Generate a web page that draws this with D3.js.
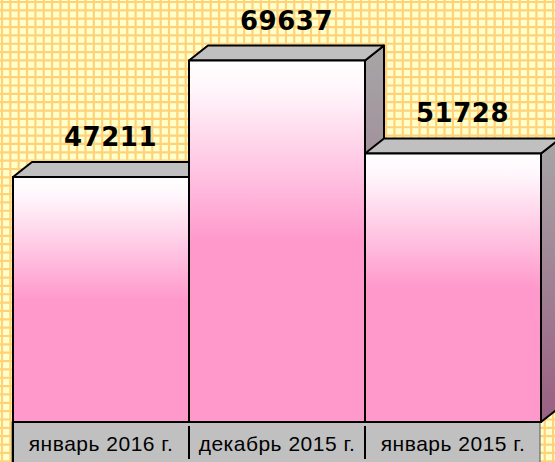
<!DOCTYPE html>
<html>
<head>
<meta charset="utf-8">
<script src="https://cdn.jsdelivr.net/npm/d3@7"></script>
<style>
  body { margin: 0; background: #fff; }
  svg { display: block; }
</style>
</head>
<body>
<div id="chart"></div>
<script>
const categories = ["январь 2016 г.", "декабрь 2015 г.", "январь 2015 г."];
const values = [47211, 69637, 51728];

const w = 555;
const h = 462;
const base = 422;      // bottom of the bars
const depth = {dx: 19, dy: -15};

const svg = d3.select("#chart").append("svg")
    .attr("width", w)
    .attr("height", h);

const defs = svg.append("defs");

const front = defs.append("linearGradient")
    .attr("id", "frontGrad")
    .attr("x1", 0).attr("y1", 0).attr("x2", 0).attr("y2", 1);
front.append("stop").attr("offset", "0%").attr("stop-color", "#ffffff");
front.append("stop").attr("offset", "8%").attr("stop-color", "#fff6fb");
front.append("stop").attr("offset", "50%").attr("stop-color", "#ff99cc");
front.append("stop").attr("offset", "100%").attr("stop-color", "#ff99cc");

const side = defs.append("linearGradient")
    .attr("id", "sideGrad")
    .attr("x1", 0).attr("y1", 0).attr("x2", 0).attr("y2", 1);
side.append("stop").attr("offset", "0%").attr("stop-color", "#a6a6a6");
side.append("stop").attr("offset", "100%").attr("stop-color", "#9a5f82");

// background grid
svg.append("rect")
    .attr("width", w).attr("height", h)
    .attr("fill", "#ffffcc");
const step = 8.35;
const bg = svg.append("g").attr("stroke", "#ffd27a").attr("stroke-width", 2.2);
bg.selectAll("line.v")
    .data(d3.range(2, w, step))
    .enter().append("line")
    .attr("x1", d => d).attr("x2", d => d)
    .attr("y1", 0).attr("y2", h);
bg.selectAll("line.h")
    .data(d3.range(2, h, step))
    .enter().append("line")
    .attr("y1", d => d).attr("y2", d => d)
    .attr("x1", 0).attr("x2", w);

const xScale = d3.scaleBand()
    .domain(categories)
    .range([13, 541])
    .padding(0);

const yScale = d3.scaleLinear()
    .domain([0, 81300])
    .range([base, 0]);

const bars = svg.selectAll("g.bar")
    .data(values.map((v, i) => ({v, c: categories[i]})))
    .enter().append("g")
    .attr("class", "bar")
    .attr("stroke", "#000")
    .attr("stroke-width", 2)
    .attr("stroke-linejoin", "round");

// side face
bars.append("path")
    .attr("fill", "url(#sideGrad)")
    .attr("d", d => {
        const x1 = xScale(d.c) + xScale.bandwidth();
        const y0 = yScale(d.v);
        return `M${x1},${y0} L${x1 + depth.dx},${y0 + depth.dy} L${x1 + depth.dx},${base + depth.dy} L${x1},${base} Z`;
    });

// top face
bars.append("path")
    .attr("fill", "#c0c0c0")
    .attr("d", d => {
        const x0 = xScale(d.c);
        const x1 = x0 + xScale.bandwidth();
        const y0 = yScale(d.v);
        return `M${x0},${y0} L${x0 + depth.dx},${y0 + depth.dy} L${x1 + depth.dx},${y0 + depth.dy} L${x1},${y0} Z`;
    });

// front face
bars.append("rect")
    .attr("fill", "url(#frontGrad)")
    .attr("x", d => xScale(d.c))
    .attr("y", d => yScale(d.v))
    .attr("width", xScale.bandwidth())
    .attr("height", d => base - yScale(d.v));

// value labels
svg.selectAll("text.val")
    .data(values.map((v, i) => ({v, c: categories[i]})))
    .enter().append("text")
    .attr("class", "val")
    .attr("x", d => xScale(d.c) + xScale.bandwidth() / 2 + depth.dx / 2)
    .attr("y", d => yScale(d.v) + depth.dy - 16)
    .attr("text-anchor", "middle")
    .attr("font-family", "DejaVu Sans, Verdana, sans-serif")
    .attr("font-weight", "bold")
    .attr("font-size", 26)
    .attr("letter-spacing", 0.5)
    .attr("fill", "#000")
    .text(d => d.v);

// category box
svg.append("rect")
    .attr("x", 12)
    .attr("y", base)
    .attr("width", 528)
    .attr("height", h - base + 2)
    .attr("fill", "#c0c0c0")
    .attr("stroke", "#555")
    .attr("stroke-width", 1);

svg.append("line")
    .attr("x1", 13).attr("x2", 13)
    .attr("y1", base).attr("y2", h)
    .attr("stroke", "#000").attr("stroke-width", 2);

svg.append("line")
    .attr("x1", 12).attr("x2", 541)
    .attr("y1", base).attr("y2", base)
    .attr("stroke", "#000").attr("stroke-width", 2);

svg.selectAll("line.div")
    .data(categories.slice(1))
    .enter().append("line")
    .attr("class", "div")
    .attr("x1", d => xScale(d)).attr("x2", d => xScale(d))
    .attr("y1", base + 4).attr("y2", h - 3)
    .attr("stroke", "#000").attr("stroke-width", 2);

const xAxis = d3.axisBottom(xScale).tickSize(0).tickPadding(0);
const axisG = svg.append("g")
    .attr("transform", `translate(0, ${base})`)
    .call(xAxis);
axisG.select(".domain").remove();
axisG.selectAll("text")
    .attr("font-family", "Liberation Sans, Arial, sans-serif")
    .attr("font-size", 21)
    .attr("letter-spacing", 0.5)
    .attr("fill", "#000")
    .attr("dy", 0)
    .attr("y", 29);
</script>
</body>
</html>
